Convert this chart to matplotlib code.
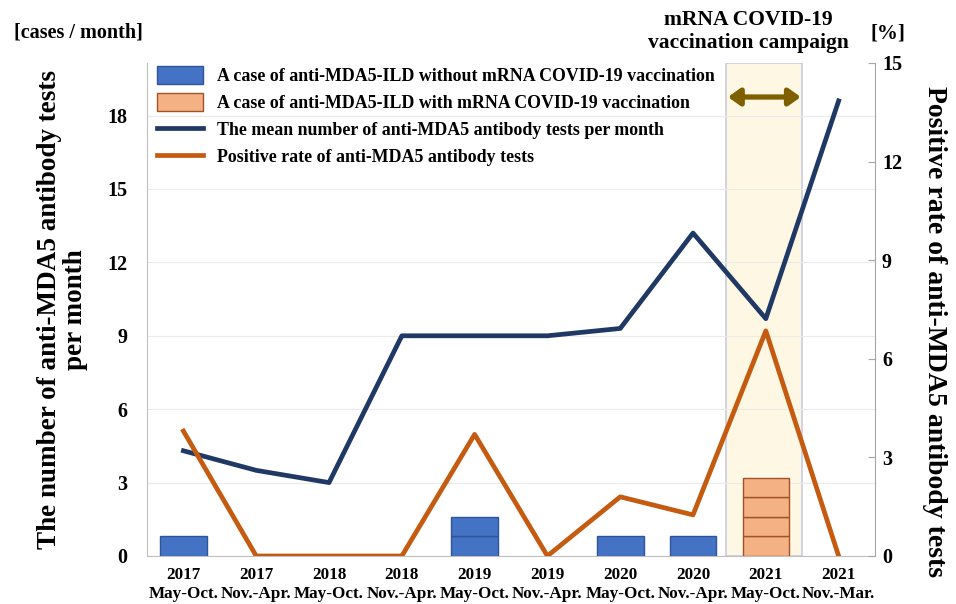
import numpy as np
import matplotlib
matplotlib.use('Agg')
import matplotlib.pyplot as plt
from matplotlib.patches import Patch
from matplotlib.lines import Line2D

plt.rcParams['font.family'] = ['Liberation Serif', 'DejaVu Serif']
plt.rcParams['font.weight'] = 'bold'

years = ['2017', '2017', '2018', '2018', '2019', '2019', '2020', '2020', '2021', '2021']
periods = ['May-Oct.', 'Nov.-Apr.', 'May-Oct.', 'Nov.-Apr.', 'May-Oct.',
           'Nov.-Apr.', 'May-Oct.', 'Nov.-Apr.', 'May-Oct.', 'Nov.-Mar.']
cases_unvacc = [1, 0, 0, 0, 2, 0, 1, 1, 0, 0]
cases_vacc = [0, 0, 0, 0, 0, 0, 0, 0, 4, 0]
tests_per_month = [4.3, 3.5, 3.0, 9.0, 9.0, 9.0, 9.3, 13.2, 9.7, 18.6]
positive_rate = [3.8, 0, 0, 0, 3.7, 0, 1.8, 1.25, 6.85, 0]

case_height = 0.8  # one box per case, in left-axis units

blue_bar = '#4472C4'
orange_bar = '#F4B183'
navy = '#1F3864'
rust = '#C55A11'

fig = plt.figure(figsize=(9.56, 6.04), dpi=100)
ax = fig.add_axes([0.1538, 0.0795, 0.7615, 0.8162])
ax2 = ax.twinx()

x = np.arange(len(years))

# vaccination campaign shading
ax.axvspan(7.45, 8.5, facecolor='#FDF7E3', edgecolor='#C9CCE0', lw=1.2, zorder=0)

# stacked case boxes
for i in x:
    for k in range(cases_unvacc[i]):
        ax.bar(i, case_height, bottom=k * case_height, width=0.64,
               color=blue_bar, edgecolor='#2F5597', lw=1, zorder=2)
    for k in range(cases_vacc[i]):
        ax.bar(i, case_height, bottom=k * case_height, width=0.64,
               color=orange_bar, edgecolor='#A0522D', lw=1, zorder=2)

ax.plot(x, tests_per_month, color=navy, lw=3.4, zorder=3)
ax2.plot(x, positive_rate, color=rust, lw=3.4, zorder=3)

ax.set_xlim(-0.5, 9.5)
ax.set_ylim(0, 20.15)
ax2.set_ylim(0, 15)
ax.set_yticks(np.arange(0, 19, 3))
ax2.set_yticks(np.arange(0, 16, 3))
ax.yaxis.grid(True, color='#EBEBEB', lw=0.8)
ax.set_axisbelow(True)

ax.set_xticks(x)
ax.set_xticklabels([f'{y}\n{p}' for y, p in zip(years, periods)], fontsize=12.3,
                   fontweight='bold', linespacing=1.25)
ax.tick_params(axis='x', length=0, pad=8)
ax.tick_params(axis='y', length=0, labelsize=14.5, pad=14)
ax2.tick_params(axis='y', direction='in', length=5, color='#A6A6A6', labelsize=14.5, pad=5)

for s in ['top', 'right']:
    ax.spines[s].set_visible(False)
ax.spines['left'].set_color('#BFBFBF')
ax.spines['bottom'].set_color('#BFBFBF')
for s in ['top', 'left', 'bottom']:
    ax2.spines[s].set_visible(False)
ax2.spines['right'].set_color('#A6A6A6')

ax.set_ylabel('The number of anti-MDA5 antibody tests\nper month', fontsize=19.5,
              fontweight='bold', labelpad=14, linespacing=1.05)
ax2.set_ylabel('Positive rate of anti-MDA5 antibody tests', fontsize=20,
               fontweight='bold', rotation=-90, va='center')
ax2.yaxis.set_label_coords(1.082, 0.455)

fig.text(0.082, 0.947, '[cases / month]', fontsize=14.5, fontweight='bold', ha='center', va='center')
fig.text(0.929, 0.945, '[%]', fontsize=15, fontweight='bold', ha='center', va='center')
fig.text(0.783, 0.948, 'mRNA COVID-19\nvaccination campaign', fontsize=15.5, fontweight='bold',
         ha='center', va='center', linespacing=1.15)

ax2.annotate('', xy=(8.48, 0.931), xytext=(7.48, 0.931),
             xycoords=('data', 'axes fraction'), textcoords=('data', 'axes fraction'),
             arrowprops=dict(arrowstyle='<|-|>,head_length=0.7,head_width=0.5',
                             color='#7F6000', lw=3.8, shrinkA=0, shrinkB=0))

handles = [Patch(facecolor=blue_bar, edgecolor='#2F5597'),
           Patch(facecolor=orange_bar, edgecolor='#A0522D'),
           Line2D([], [], color=navy, lw=3.4),
           Line2D([], [], color=rust, lw=3.4)]
labels = ['A case of anti-MDA5-ILD without mRNA COVID-19 vaccination',
          'A case of anti-MDA5-ILD with mRNA COVID-19 vaccination',
          'The mean number of anti-MDA5 antibody tests per month',
          'Positive rate of anti-MDA5 antibody tests']
leg = ax2.legend(handles, labels, loc='upper left', bbox_to_anchor=(0.0, 1.013),
                 frameon=False, fontsize=12.9, handlelength=2.6, handleheight=1.15,
                 labelspacing=0.45, handletextpad=0.75, borderaxespad=0.15)

fig.savefig('out.png', dpi=100)
